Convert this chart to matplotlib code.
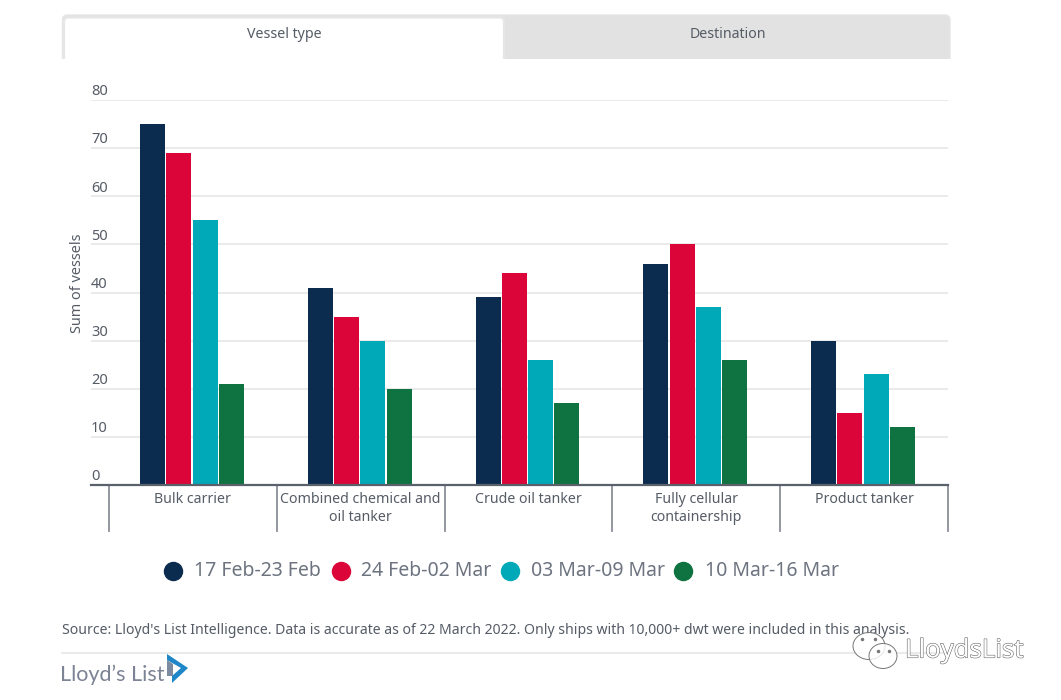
from matplotlib import pyplot as plt
from matplotlib import patheffects
from matplotlib.patches import FancyBboxPatch, Rectangle, Polygon, Ellipse
import numpy as np

plt.rcParams.update({
    "font.family": ['Noto Sans', 'DejaVu Sans'],
    "font.size": 10,
})

W, H = 1061, 700

categories = ['Bulk carrier', 'Combined chemical and\noil tanker', 'Crude oil tanker',
              'Fully cellular\ncontainership', 'Product tanker']
periods = ['17 Feb-23 Feb', '24 Feb-02 Mar', '03 Mar-09 Mar', '10 Mar-16 Mar']
feb_17 = [75, 41, 39, 46, 30]
feb_24 = [69, 35, 44, 50, 15]
mar_03 = [55, 30, 26, 37, 23]
mar_10 = [21, 20, 17, 26, 12]
series = [feb_17, feb_24, mar_03, mar_10]
colors = ['#0c2c4f', '#dc0539', '#00a9b7', '#0f7341']
yticks = [0, 10, 20, 30, 40, 50, 60, 70, 80]

TEXT = '#555c66'
GRID = '#e6e6e6'

fig = plt.figure(figsize=(W / 100, H / 100), dpi=100, facecolor='white')

# overlay in pixel coords for the tabs, footer and watermark
bg = fig.add_axes([0, 0, 1, 1])
bg.set_xlim(0, W)
bg.set_ylim(H, 0)
bg.axis('off')

# tabs
bg.add_patch(FancyBboxPatch((62.5, 15), 887.5, 60, boxstyle='round,pad=0,rounding_size=5',
                            fc='#e2e2e2', ec='#e6e6e6', lw=1))
bg.add_patch(FancyBboxPatch((64, 17.5), 440, 60, boxstyle='round,pad=0,rounding_size=4',
                            fc='white', ec='#e6e6e6', lw=1.6))
bg.add_patch(Rectangle((55, 59), 900, 25, fc='white', ec='none', zorder=3))
bg.text(284.5, 35, 'Vessel type', ha='center', va='center', color=TEXT, fontsize=10.2, weight='medium')
bg.text(728, 35, 'Destination', ha='center', va='center', color=TEXT, fontsize=10.2, weight='medium')

# main chart
left, right, top, bottom = 91, 948, 100, 485
ax = fig.add_axes([left / W, 1 - bottom / H, (right - left) / W, (bottom - top) / H])
ax.patch.set_alpha(0)
cat_w = (948 - 109) / 5
ax.set_xlim(-0.5 - (109 - left) / cat_w, 4.5)
ax.set_ylim(0, 80)

x = np.arange(len(categories))
step = 26.3 / cat_w
for i, (vals, c) in enumerate(zip(series, colors)):
    ax.bar(x + (i - 1.5) * step - 0.006, vals, width=25 / cat_w, color=c, zorder=3)

for s in ['top', 'right', 'left']:
    ax.spines[s].set_visible(False)
ax.spines['bottom'].set_color('#5a616b')
ax.spines['bottom'].set_linewidth(1.6)
ax.spines['bottom'].set_zorder(4)

ax.set_yticks(yticks)
ax.yaxis.grid(True, color=GRID, lw=1.2, zorder=0)
ax.tick_params(axis='y', length=0, labelleft=False)
ax.tick_params(axis='x', length=0, labelbottom=False)
for v in yticks:
    ax.annotate(str(v), (0, v), xycoords=('axes fraction', 'data'), xytext=(0, 0.5),
                textcoords='offset points', ha='left', va='bottom', color=TEXT, fontsize=10.5)
ax.set_ylabel('Sum of vessels', color=TEXT, fontsize=10.4)
ax.yaxis.set_label_coords((85 - left) / (right - left), (bottom - 283) / (bottom - top))

# category separators and labels
for b in np.arange(len(categories) + 1) - 0.5:
    ax.plot([b, b], [0, -46 / (bottom - top) * 80], color='#8a8f96', lw=1.3, clip_on=False, zorder=2)
for xi, name in zip(x, categories):
    ax.annotate(name, (xi, 0), xycoords='data', xytext=(0, -5), textcoords='offset points',
                ha='center', va='top', color=TEXT, fontsize=10.2, linespacing=1.25)

# legend, laid out by hand because the entries sit very tight
for mx, tx, c, name in zip([173, 341, 510, 683], [194, 361, 531, 705], colors, periods):
    bg.plot(mx, 571, 'o', ms=14, color=c, mew=0)
    bg.text(tx, 571, name, ha='left', va='center', color='#6d7480', fontsize=14)

# footer
bg.text(62, 630, "Source: Lloyd's List Intelligence. Data is accurate as of 22 March 2022. "
        "Only ships with 10,000+ dwt were included in this analysis.",
        ha='left', va='center', color=TEXT, fontsize=10.1, weight='medium', zorder=5)
bg.plot([62, 948], [653, 653], color='#e6e6e6', lw=1.2)
bg.text(60, 675, "Lloyd\u2019s List", ha='left', va='center', color='#7b8394', fontsize=15.5, family='Lato')
# logo mark: blue chevron with a grey band on its left
bg.add_patch(Polygon([[167, 654], [188, 668], [172, 683], [172, 676], [181, 668], [167, 660]],
                     fc='#1f86c8', ec='none'))
bg.add_patch(Polygon([[167, 660], [173, 664], [173, 676], [167, 676]], fc='#7d8ba0', ec='none'))

# watermark
for cx, cy, ew, eh in [(869, 646, 32, 27), (883, 656, 28, 25)]:
    bg.add_patch(Ellipse((cx, cy), ew, eh, fc='#ffffffd0', ec='#777777', lw=0.7, zorder=6))
for px, py in [(862, 639), (875, 639), (878, 651), (889, 651)]:
    bg.plot(px, py, 'o', ms=1.5, color='#777777', zorder=7)
bg.text(905, 651, 'LloydsList', ha='left', va='center', fontsize=18.5, color='white', zorder=7,
        path_effects=[patheffects.withStroke(linewidth=0.8, foreground='#666666')])

fig.savefig('out.png', dpi=100)
